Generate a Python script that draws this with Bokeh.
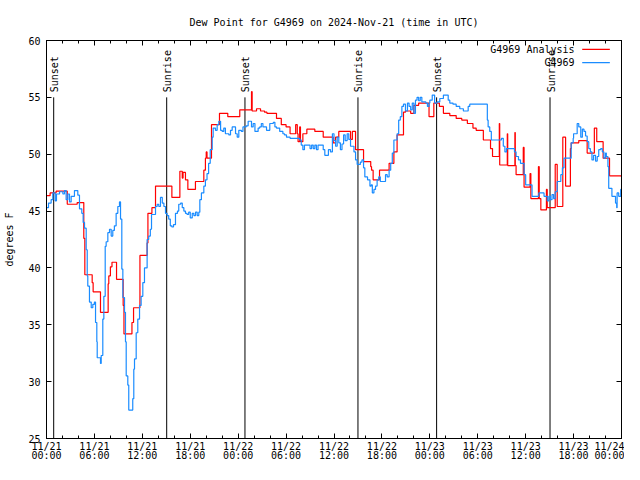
from math import pi
from bokeh.plotting import figure
from bokeh.models import (Range1d, FixedTicker, LinearAxis, Label, ColumnDataSource,
                          BoxAnnotation)
from bokeh.core.properties import value
from bokeh.embed import file_html
from bokeh.resources import INLINE

TITLE = "Dew Point for G4969 on 2024-Nov-21 (time in UTC)"
Y_LABEL = "degrees F"
FONT = "DejaVu Sans Mono"

# hours since 2024-11-21 00:00 UTC
X_TICKS = [0, 6, 12, 18, 24, 30, 36, 42, 48, 54, 60, 66, 72]
X_TICK_DATES = ["11/21", "11/21", "11/21", "11/21", "11/22", "11/22", "11/22",
                "11/22", "11/23", "11/23", "11/23", "11/23", "11/24"]
X_TICK_TIMES = ["00:00", "06:00", "12:00", "18:00", "00:00", "06:00", "12:00",
                "18:00", "00:00", "06:00", "12:00", "18:00", "00:00"]
X_MINOR = list(range(0, 73, 2))
Y_TICKS = [25, 30, 35, 40, 45, 50, 55, 60]

EVENT_HOURS = [0.9, 15.05, 24.85, 39.0, 48.85, 63.05]
EVENT_NAMES = ["Sunset", "Sunrise", "Sunset", "Sunrise", "Sunset", "Sunrise"]

ANALYSIS_NAME = "G4969 Analysis"
ANALYSIS_HOURS = [0.0, 0.45, 1.2, 2.6, 3.84, 4.67, 4.8, 5.72, 5.84, 6.76, 7.72, 7.8, 8.0, 8.2,
                  8.77, 9.6, 9.7, 10.7, 10.9, 11.7, 12.6, 12.7, 13.2, 13.65, 15.7, 16.7, 17.0,
                  17.1, 17.4, 17.7, 18.65, 19.7, 19.9, 20.0, 20.1, 20.66, 21.66, 22.7, 24.2,
                  25.67, 25.75, 26.3, 26.8, 27.3, 27.6, 28.8, 29.4, 30.0, 30.5, 31.2, 31.4,
                  31.5, 31.7, 31.8, 32.1, 32.6, 33.6, 34.65, 35.9, 36.2, 36.6, 38.07, 38.3,
                  38.7, 39.7, 40.6, 40.7, 40.9, 41.7, 42.9, 43.5, 43.9, 44.7, 44.95, 45.6,
                  46.0, 46.6, 47.9, 48.5, 49.2, 49.7, 50.5, 51.3, 52.0, 52.7, 53.4, 53.8,
                  54.7, 55.6, 55.85, 56.7, 56.75, 57.7, 57.75, 58.65, 58.7, 58.8, 59.7, 59.8,
                  60.55, 60.65, 61.6, 61.7, 61.9, 62.6, 62.7, 63.7, 63.95, 64.65, 65.0, 65.6,
                  65.7, 66.65, 67.7, 68.6, 68.9, 69.7, 70.5, 72.0]
ANALYSIS_VALUES = [46.35, 46.6, 46.75, 45.6, 45.75, 42.6, 39.4, 38.7, 37.9, 36.1, 38.6, 39.3,
                   40.1, 40.5, 39.0, 36.7, 34.2, 35.2, 36.5, 41.1, 42.2, 44.8, 45.3, 47.2, 46.2,
                   48.5, 47.9, 48.4, 47.75, 46.9, 47.6, 48.6, 49.65, 50.2, 49.65, 52.6, 53.6,
                   53.3, 53.9, 55.5, 53.8, 54.0, 53.8, 53.7, 53.6, 53.15, 52.6, 52.4, 51.8,
                   52.6, 51.8, 51.1, 52.4, 51.1, 51.8, 52.2, 52.0, 51.5, 51.0, 51.5, 52.0,
                   51.3, 52.0, 50.4, 49.35, 48.9, 48.6, 47.75, 48.6, 49.2, 50.2, 51.7, 53.7,
                   53.8, 53.6, 54.3, 54.5, 53.3, 54.5, 54.2, 53.6, 53.4, 53.15, 53.0, 52.7,
                   52.3, 52.1, 51.25, 50.5, 49.8, 52.7, 49.05, 51.8, 49.0, 51.9, 49.0, 48.2,
                   50.6, 47.1, 48.3, 46.1, 48.9, 46.1, 45.1, 46.9, 45.3, 49.1, 45.4, 51.5,
                   47.2, 50.5, 51.0, 51.2, 50.1, 52.3, 51.1, 49.65, 48.1, 48.0]

OBS_NAME = "G4969"
OBS_HOURS = [0.0, 0.25, 0.58, 0.79, 1.09, 1.25, 1.63, 2.05, 2.25, 2.46, 2.67, 2.88, 3.09, 3.5,
             3.92, 4.13, 4.42, 4.59, 4.76, 4.97, 5.1, 5.17, 5.38, 5.6, 5.8, 6.0, 6.14, 6.3,
             6.35, 6.76, 6.85, 7.05, 7.18, 7.35, 7.47, 7.68, 7.89, 8.1, 8.3, 8.5, 8.72, 8.93,
             9.14, 9.27, 9.43, 9.56, 9.77, 9.89, 9.98, 10.18, 10.3, 10.8, 10.93, 11.02, 11.23,
             11.43, 11.65, 11.85, 12.06, 12.27, 12.6, 12.8, 13.0, 13.15, 13.65, 13.86, 14.06,
             14.27, 14.5, 14.7, 14.9, 15.1, 15.3, 15.5, 15.7, 15.9, 16.15, 16.4, 16.56, 16.8,
             17.0, 17.2, 17.4, 17.6, 17.8, 18.0, 18.25, 18.45, 18.66, 18.87, 19.07, 19.2,
             19.4, 19.7, 19.9, 20.1, 20.3, 20.5, 20.75, 20.87, 21.16, 21.37, 21.58, 21.8,
             22.0, 22.2, 22.4, 22.83, 23.04, 23.25, 23.67, 23.88, 24.08, 24.4, 24.6, 25.0,
             25.25, 25.67, 25.88, 26.1, 26.5, 26.7, 26.9, 27.1, 27.55, 27.96, 28.4, 28.6,
             28.8, 29.2, 29.6, 29.8, 30.05, 30.5, 31.7, 31.9, 32.1, 32.3, 33.0, 33.2, 33.4,
             33.6, 33.8, 34.0, 34.65, 34.85, 35.3, 35.56, 35.8, 36.0, 36.2, 36.4, 36.6, 36.8,
             37.0, 37.2, 37.4, 37.65, 37.85, 38.07, 38.5, 38.7, 38.9, 39.3, 39.5, 39.7, 39.86,
             40.2, 40.5, 40.65, 40.8, 41.0, 41.2, 41.4, 41.6, 41.8, 42.45, 42.66, 42.9, 43.1,
             43.3, 43.5, 43.9, 44.1, 44.3, 44.5, 44.7, 44.95, 45.2, 45.4, 45.6, 45.8, 46.0,
             46.2, 46.4, 46.6, 46.8, 47.0, 47.5, 47.7, 47.9, 48.0, 48.3, 48.6, 48.9, 49.25,
             49.7, 50.3, 50.5, 50.9, 51.3, 51.75, 52.2, 52.8, 53.0, 55.2, 55.3, 55.5, 55.7,
             56.97, 57.2, 57.4, 57.6, 58.6, 58.8, 59.1, 59.35, 59.8, 60.0, 60.8, 61.65, 62.3,
             62.7, 62.9, 63.1, 63.3, 63.5, 63.7, 63.95, 64.4, 64.6, 64.8, 65.7, 65.95, 66.0,
             66.45, 66.65, 66.9, 67.1, 67.3, 67.5, 67.7, 67.9, 68.1, 68.3, 68.5, 68.75, 68.96,
             69.15, 69.4, 69.6, 69.8, 70.0, 70.1, 70.3, 70.4, 70.8, 71.25, 71.4, 71.45, 71.65,
             71.9, 72.0]
OBS_VALUES = [45.3, 45.7, 46.0, 46.6, 45.9, 46.5, 46.7, 46.5, 46.8, 46.0, 46.5, 45.8, 46.3,
              46.8, 46.4, 45.2, 44.8, 44.0, 43.5, 41.6, 39.3, 38.4, 37.0, 36.5, 36.8, 37.0,
              35.2, 33.5, 32.1, 31.6, 32.3, 35.5, 37.5, 41.9, 42.3, 43.1, 43.4, 42.8, 43.3,
              43.7, 44.8, 45.4, 45.8, 44.3, 39.9, 37.4, 36.1, 33.5, 30.5, 29.7, 27.5, 28.5,
              31.1, 32.0, 34.3, 35.5, 36.7, 37.5, 38.7, 40.0, 42.5, 42.8, 43.4, 44.7, 45.4,
              45.6, 45.4, 46.2, 45.7, 45.4, 44.8, 44.6, 44.3, 43.7, 43.6, 43.8, 44.8, 45.0,
              45.6, 45.7, 45.3, 45.0, 44.8, 44.7, 44.9, 44.4, 44.8, 44.6, 44.9, 44.6, 44.9,
              46.0, 46.6, 47.2, 47.75, 48.3, 49.2, 50.4, 51.5, 52.3, 52.1, 52.6, 52.9, 52.1,
              52.0, 52.3, 51.8, 51.7, 52.1, 52.4, 51.8, 51.5, 52.1, 52.0, 52.4, 52.5, 52.9,
              52.4, 52.7, 52.0, 52.3, 52.4, 52.7, 52.4, 52.1, 52.7, 52.8, 52.4, 52.3, 52.0,
              51.8, 51.7, 51.5, 51.4, 51.25, 50.8, 50.4, 50.8, 50.5, 50.8, 50.5, 50.8, 50.4,
              50.8, 50.4, 49.9, 50.4, 50.2, 51.8, 51.2, 50.7, 51.5, 51.0, 50.4, 50.9, 51.7,
              51.2, 51.8, 51.3, 50.7, 50.2, 49.5, 49.1, 49.3, 49.5, 48.8, 48.0, 47.75, 47.2,
              47.3, 46.6, 46.9, 47.2, 47.75, 48.0, 47.6, 48.2, 48.0, 48.6, 49.2, 50.1, 51.25,
              51.8, 53.0, 53.3, 54.2, 54.4, 53.8, 54.5, 54.2, 53.9, 54.5, 53.6, 54.75, 55.0,
              54.7, 55.0, 54.6, 54.5, 54.2, 54.5, 54.75, 55.2, 54.5, 54.6, 54.9, 55.2, 54.75,
              54.5, 54.4, 54.2, 54.0, 53.8, 54.2, 54.4, 53.0, 52.4, 52.0, 51.25, 51.4, 50.7,
              50.2, 50.5, 50.2, 49.8, 49.5, 49.2, 48.2, 47.3, 46.3, 46.6, 46.3, 45.9, 46.3,
              46.0, 46.45, 46.1, 46.7, 47.6, 48.2, 48.8, 49.65, 51.0, 51.4, 51.8, 52.7, 52.4,
              51.5, 52.2, 52.0, 51.6, 51.1, 50.5, 50.2, 49.5, 49.9, 49.4, 49.8, 50.4, 50.5,
              50.2, 49.65, 50.1, 49.8, 48.9, 47.0, 46.3, 45.7, 45.3, 46.6, 46.3, 46.9, 46.9]

RED = "#ff0000"
BLUE = "#1a8cff"

X_MIN, X_MAX = X_TICKS[0], X_TICKS[-1]
Y_MIN, Y_MAX = Y_TICKS[0], Y_TICKS[-1]

p = figure(width=624, height=464, output_backend="svg", toolbar_location=None,
           x_range=Range1d(X_MIN, X_MAX), y_range=Range1d(Y_MIN, Y_MAX),
           min_border_left=46, min_border_right=3, min_border_top=40, min_border_bottom=24,
           background_fill_color="white", border_fill_color="white")
p.xgrid.visible = False
p.ygrid.visible = False
p.outline_line_color = "black"
p.outline_line_alpha = 1.0
p.outline_line_width = 1

p.title.text = TITLE
p.title.align = "center"
p.title.text_font = FONT
p.title.text_font_size = "10px"
p.title.text_font_style = "normal"
p.title.text_color = "black"
p.title.standoff = 26

xt = FixedTicker(ticks=X_TICKS, minor_ticks=X_MINOR)
yt = FixedTicker(ticks=Y_TICKS, minor_ticks=[])


def style_axis(ax, show_labels):
    ax.axis_line_color = "black"
    ax.major_tick_in = 5
    ax.major_tick_out = 0
    ax.minor_tick_in = 3
    ax.minor_tick_out = 0
    ax.major_tick_line_color = "black"
    ax.minor_tick_line_color = "black"
    ax.major_label_text_font = FONT
    ax.major_label_text_color = "black"
    if show_labels:
        ax.major_label_text_font_size = "10px"
    else:
        ax.major_label_text_font_size = "0px"
        ax.major_label_standoff = 0


xa = p.xaxis[0]
xa.ticker = xt
style_axis(xa, True)
xa.major_label_overrides = {t: d + "\n" + s for t, d, s in zip(X_TICKS, X_TICK_DATES, X_TICK_TIMES)}
xa.major_label_standoff = 2
xa.major_label_text_line_height = 0.9

ya = p.yaxis[0]
ya.ticker = yt
style_axis(ya, True)
ya.major_label_standoff = 6
ya.axis_label = Y_LABEL
ya.axis_label_text_font = FONT
ya.axis_label_text_font_size = "10px"
ya.axis_label_text_font_style = "normal"
ya.axis_label_text_color = "black"
ya.axis_label_standoff = 10

top_ax = LinearAxis(ticker=xt)
style_axis(top_ax, False)
top_ax.major_label_overrides = {t: "" for t in X_TICKS}
p.add_layout(top_ax, "above")

right_ax = LinearAxis(ticker=yt)
style_axis(right_ax, False)
right_ax.major_label_overrides = {t: "" for t in Y_TICKS}
p.add_layout(right_ax, "right")

# sunrise / sunset markers
ev = ColumnDataSource(dict(x=EVENT_HOURS, name=EVENT_NAMES,
                           y0=[Y_MIN] * len(EVENT_HOURS), y1=[55.0] * len(EVENT_HOURS),
                           ty=[55.45] * len(EVENT_HOURS)))
p.segment(x0="x", y0="y0", x1="x", y1="y1", source=ev, line_color="black", line_width=1)
p.text(x="x", y="ty", text="name", source=ev, angle=pi / 2, text_align="left",
       text_baseline="middle", text_font=value(FONT), text_font_size="10px",
       text_color="black", x_offset=1)

# data series
src_a = ColumnDataSource(dict(x=ANALYSIS_HOURS, y=ANALYSIS_VALUES))
src_o = ColumnDataSource(dict(x=OBS_HOURS, y=OBS_VALUES))
p.step(x="x", y="y", source=src_a, mode="after", line_color=RED, line_width=1.2)
p.step(x="x", y="y", source=src_o, mode="after", line_color=BLUE, line_width=1.2)

# legend (gnuplot style: text then sample line)
for name, col, yy in [(ANALYSIS_NAME, RED, 59.21), (OBS_NAME, BLUE, 58.05)]:
    p.add_layout(Label(x=66.12, y=yy, text=name, text_align="right", text_baseline="middle",
                       text_font=FONT, text_font_size="10px", text_color="black"))
    p.add_layout(BoxAnnotation(left=67.08, right=70.54, bottom=yy - 0.055, top=yy + 0.055,
                               fill_color=col, fill_alpha=1.0, line_color=None))

open("out.html", "w").write(file_html(p, INLINE))
